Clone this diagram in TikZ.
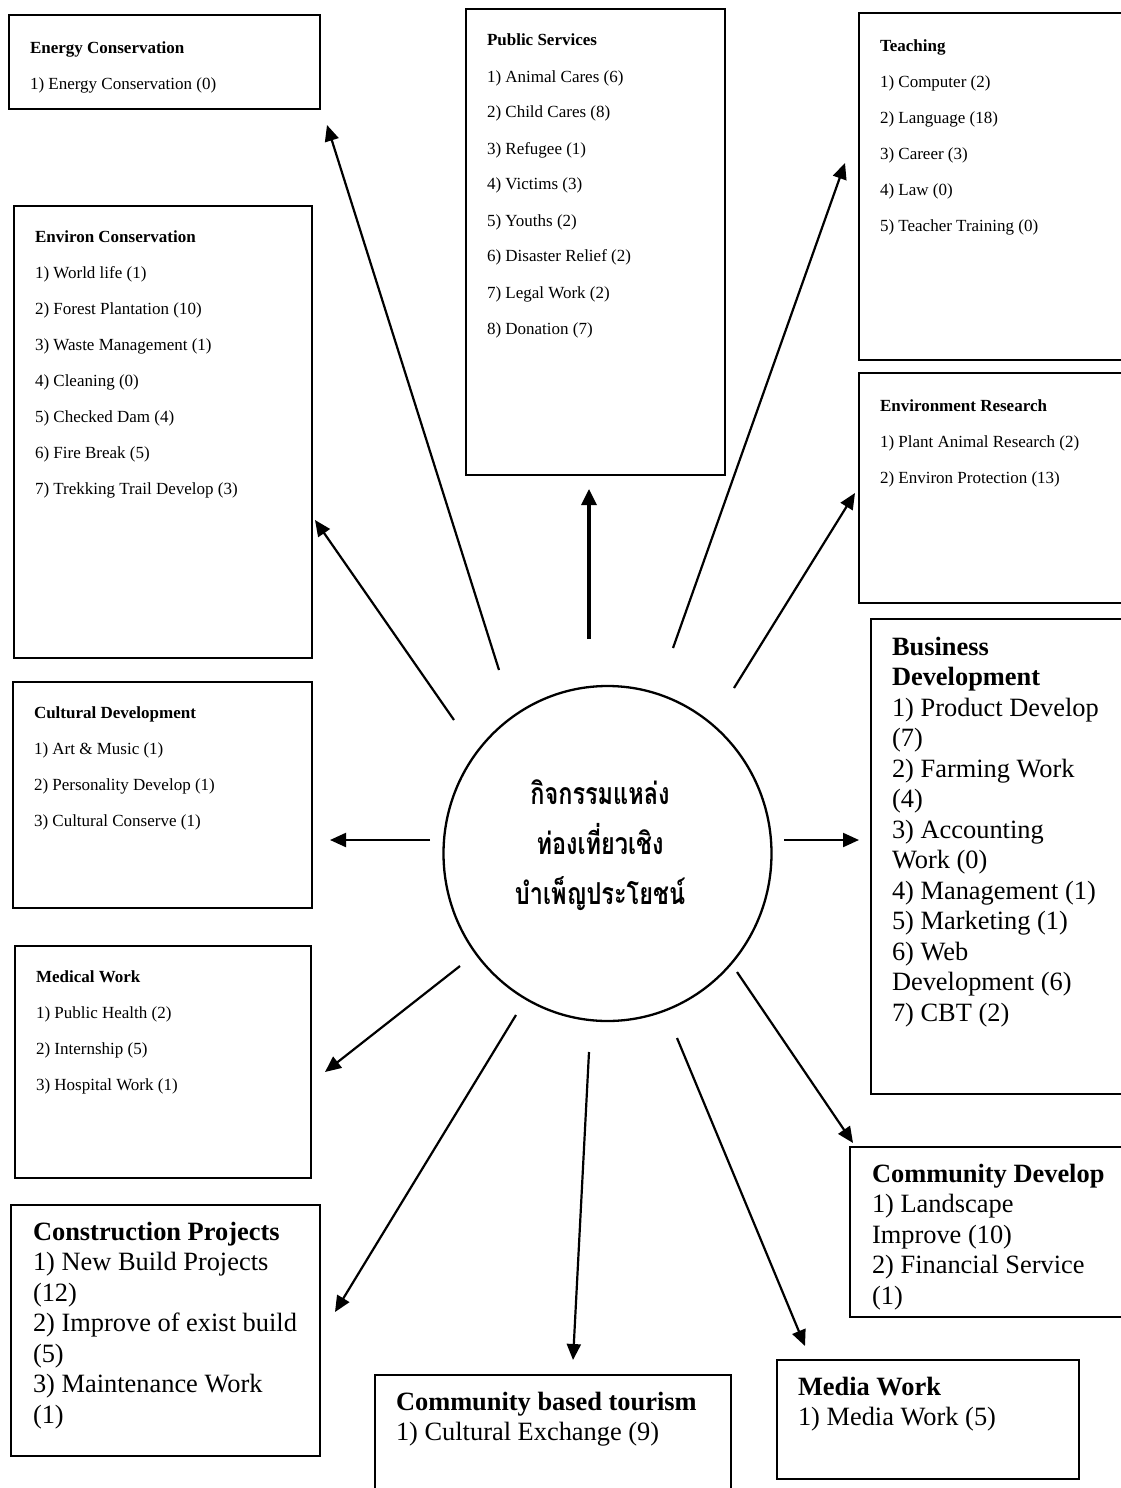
\documentclass[tikz,border=0pt]{standalone}
\usepackage{fontspec}
\setmainfont{Liberation Serif}
\newfontfamily\thaifont[Script=Thai]{Loma}
\usetikzlibrary{arrows.meta,shapes.geometric}
\newcommand{\smallfnt}{\fontsize{17}{36}\selectfont}
\newcommand{\bigfnt}{\fontsize{26.4}{30.5}\selectfont}
\newcommand{\thline}[1]{\scalebox{0.87}[1.12]{#1}}
\begin{document}
\begin{tikzpicture}[x=1pt,y=-1pt,
  frame/.style={draw, line width=2pt, inner sep=0pt, outer sep=0pt, anchor=north west},
  txt/.style={anchor=base west, inner sep=0pt, outer sep=0pt},
  arr/.style={line width=2.2pt, -{Triangle[length=16pt,width=14pt]}},
  thickarr/.style={line width=3.3pt, -{Triangle[length=16pt,width=15pt]}}]
\useasboundingbox (0,0) rectangle (1121,1488);
\clip (0,0) rectangle (1121,1488);
\fill[white] (0,0) rectangle (1121,1488);

% ---------- boxes ----------
\node[frame, minimum width=311pt, minimum height=94pt]  (energy)  at (9,15) {};
\node[frame, minimum width=259pt, minimum height=466pt] (public)  at (466,9) {};
\node[frame, minimum width=280pt, minimum height=347pt] (teach)   at (859,13) {};
\node[frame, minimum width=298pt, minimum height=452pt] (environ) at (14,206) {};
\node[frame, minimum width=280pt, minimum height=230pt] (envres)  at (859,373) {};
\node[frame, minimum width=270pt, minimum height=475pt] (business) at (871,619) {};
\node[frame, minimum width=299pt, minimum height=226pt] (cultural) at (13,682) {};
\node[frame, minimum width=296pt, minimum height=232pt] (medical) at (15,946) {};
\node[frame, minimum width=309pt, minimum height=251pt] (constr)  at (11,1205) {};
\node[frame, minimum width=356pt, minimum height=140pt] (cbt)     at (375,1375) {};
\node[frame, minimum width=302pt, minimum height=119pt] (media)   at (777,1360) {};
\node[frame, minimum width=290pt, minimum height=170pt] (commdev) at (850,1147) {};

% ---------- texts ----------
\node[txt] (energyT) at (30,53) {\parbox[t]{290pt}{\smallfnt
  \textbf{Energy Conservation}\\
  1) Energy Conservation (0)}};
\node[txt] (publicT) at (487,46) {\parbox[t]{230pt}{\smallfnt
  \textbf{Public Services}\\
  1) Animal Cares (6)\\
  2) Child Cares (8)\\
  3) Refugee (1)\\
  4) Victims (3)\\
  5) Youths (2)\\
  6) Disaster Relief (2)\\
  7) Legal Work (2)\\
  8) Donation (7)}};
\node[txt] (teachT) at (880,52) {\parbox[t]{240pt}{\smallfnt
  \textbf{Teaching}\\
  1) Computer (2)\\
  2) Language (18)\\
  3) Career (3)\\
  4) Law (0)\\
  5) Teacher Training (0)}};
\node[txt] (environT) at (35,242) {\parbox[t]{270pt}{\smallfnt
  \textbf{Environ Conservation}\\
  1) World life (1)\\
  2) Forest Plantation (10)\\
  3) Waste Management (1)\\
  4) Cleaning (0)\\
  5) Checked Dam (4)\\
  6) Fire Break (5)\\
  7) Trekking Trail Develop (3)}};
\node[txt] (envresT) at (880,411) {\parbox[t]{240pt}{\smallfnt
  \textbf{Environment Research}\\
  1) Plant Animal Research (2)\\
  2) Environ Protection (13)}};
\node[txt] (culturalT) at (34,718) {\parbox[t]{270pt}{\smallfnt
  \textbf{Cultural Development}\\
  1) Art \& Music (1)\\
  2) Personality Develop (1)\\
  3) Cultural Conserve (1)}};
\node[txt] (medicalT) at (36,982) {\parbox[t]{270pt}{\smallfnt
  \textbf{Medical Work}\\
  1) Public Health (2)\\
  2) Internship (5)\\
  3) Hospital Work (1)}};
\node[txt] (businessT) at (892,655) {\parbox[t]{240pt}{\bigfnt
  \textbf{Business}\\
  \textbf{Development}\\
  1) Product Develop\\
  (7)\\
  2) Farming Work\\
  (4)\\
  3) Accounting\\
  Work (0)\\
  4) Management (1)\\
  5) Marketing (1)\\
  6) Web\\
  Development (6)\\
  7) CBT (2)}};
\node[txt] (commdevT) at (872,1182) {\parbox[t]{260pt}{\bigfnt
  \textbf{Community Develop}\\
  1) Landscape\\
  Improve (10)\\
  2) Financial Service\\
  (1)}};
\node[txt] (mediaT) at (798,1395) {\parbox[t]{270pt}{\bigfnt
  \textbf{Media Work}\\
  1) Media Work (5)}};
\node[txt] (cbtT) at (396,1410) {\parbox[t]{330pt}{\bigfnt
  \textbf{Community based tourism}\\
  1) Cultural Exchange (9)}};
\node[txt] (constrT) at (33,1240) {\parbox[t]{280pt}{\bigfnt
  \textbf{Construction Projects}\\
  1) New Build Projects\\
  (12)\\
  2) Improve of exist build\\
  (5)\\
  3) Maintenance Work\\
  (1)}};

% ---------- hub ----------
\node[draw, ellipse, line width=2.3pt, minimum width=328pt, minimum height=335pt, inner sep=0pt] (hub) at (607.5,853.5) {};
\node[align=center, inner sep=0pt, font=\thaifont\bfseries\fontsize{27}{50}\selectfont] (hubT) at (600,845)
  {\thline{กิจกรรมแหล่ง}\\\thline{ท่องเที่ยวเชิง}\\\thline{บำเพ็ญประโยชน์}};

% ---------- connector ends ----------
\coordinate (s1) at (499,670);  \coordinate (t1) at (327,125);
\coordinate (s2) at (454,720);  \coordinate (t2) at (315,520);
\coordinate (s3) at (589,639);  \coordinate (t3) at (589,489);
\coordinate (s4) at (673,648);  \coordinate (t4) at (845,163);
\coordinate (s5) at (734,688);  \coordinate (t5) at (855,493);
\coordinate (s6) at (430,840);  \coordinate (t6) at (330,840);
\coordinate (s7) at (784,840);  \coordinate (t7) at (859,840);
\coordinate (s8) at (460,966);  \coordinate (t8) at (325,1072);
\coordinate (s9) at (516,1015); \coordinate (t9) at (335,1312);
\coordinate (s10) at (589,1052); \coordinate (t10) at (573,1360);
\coordinate (s11) at (677,1038); \coordinate (t11) at (805,1346);
\coordinate (s12) at (737,972);  \coordinate (t12) at (853,1143);

\draw[arr] (s1) -- (t1);
\draw[arr] (s2) -- (t2);
\draw[thickarr] (s3) -- (t3);
\draw[arr] (s4) -- (t4);
\draw[arr] (s5) -- (t5);
\draw[arr] (s6) -- (t6);
\draw[arr] (s7) -- (t7);
\draw[arr] (s8) -- (t8);
\draw[arr] (s9) -- (t9);
\draw[arr] (s10) -- (t10);
\draw[arr] (s11) -- (t11);
\draw[arr] (s12) -- (t12);
\end{tikzpicture}
\end{document}
